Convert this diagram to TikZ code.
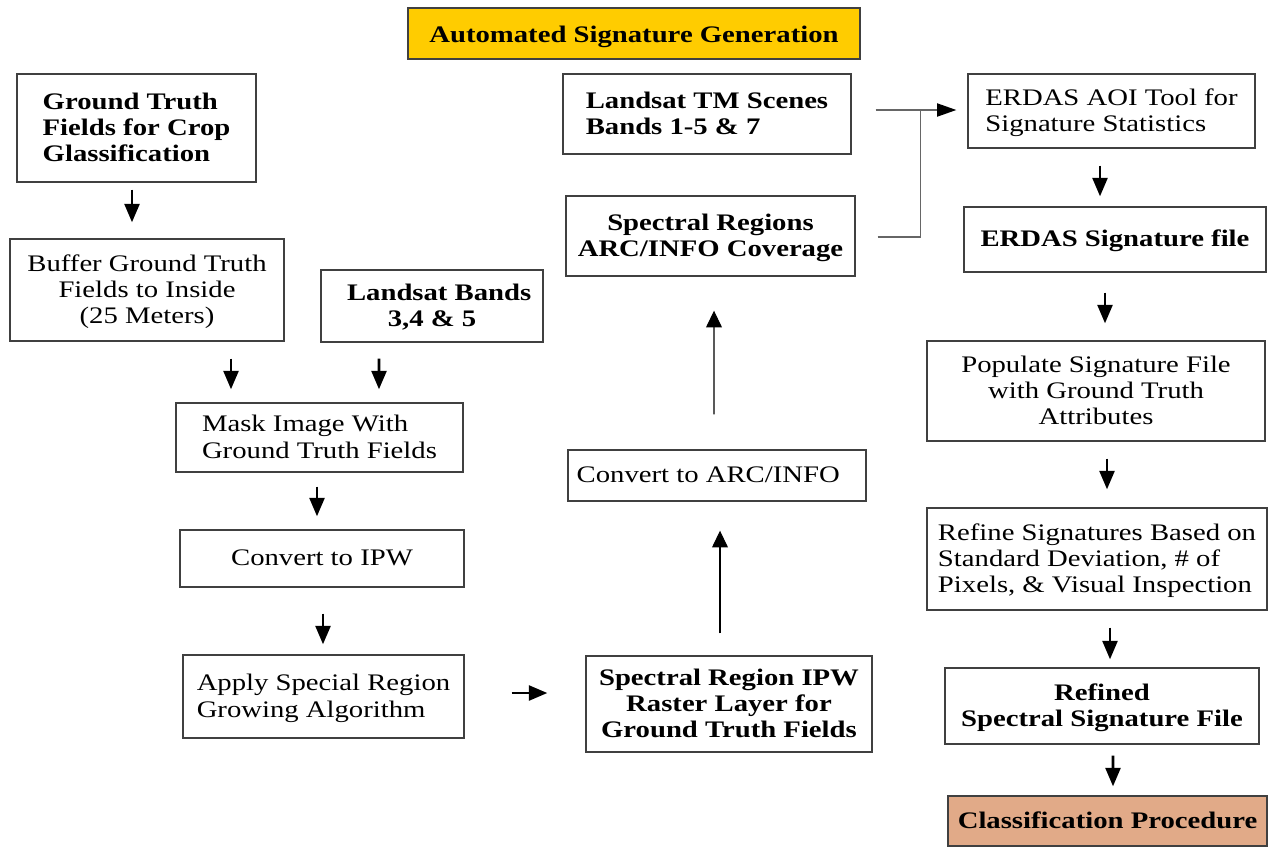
\documentclass[tikz,border=0pt]{standalone}
\usepackage{fontspec}
\setmainfont{Liberation Serif}[FakeStretch=1.21]
\usetikzlibrary{arrows.meta,calc}
\definecolor{giallo}{RGB}{255,204,0}
\definecolor{salmone}{RGB}{225,170,136}

\begin{document}
\begin{tikzpicture}[x=0.02cm,y=-0.02cm,
    font=\fontsize{13.5}{15}\selectfont,
    box/.style={rectangle,draw=black!75,line width=0.8pt,inner sep=0pt,align=center,
                text depth=1pt},
    boxl/.style={box,align=left},
    arr/.style={line width=1.5pt,-{Triangle[length=10.5pt,width=8.5pt]}},
    arrthin/.style={line width=0.6pt,-{Triangle[length=9.5pt,width=9pt]}},
    arrgrigia/.style={line width=0.9pt,black!60,-{Triangle[length=11pt,width=7.5pt,color=black]}},
    link/.style={line width=0.9pt,black!60}]

  \useasboundingbox (0,0) rectangle (1268,849);

  % ---- titolo ----------------------------------------------------------------
  \node[box,fill=giallo,minimum width=9.04cm,minimum height=1.02cm] (title) at (634,33.5)
       {\raisebox{-2pt}{\bfseries Automated Signature Generation}};

  % ---- colonna sinistra ------------------------------------------------------
  \node[boxl,minimum width=4.78cm,minimum height=2.16cm] (gt) at (136.5,128)
       {\bfseries Ground Truth\\\bfseries Fields for Crop\\\bfseries Glassification};
  \node[box,minimum width=5.48cm,minimum height=2.04cm] (buf) at (147,290)
       {Buffer Ground Truth\\Fields to Inside\\(25 Meters)};
  \node[box,minimum width=4.44cm,minimum height=1.44cm] (lb) at (432,306)
       {\bfseries\ \ Landsat Bands\\\bfseries 3,4 \& 5};
  \node[boxl,minimum width=5.74cm,minimum height=1.38cm] (mask) at (319.5,437.5)
       {Mask Image With\\Ground Truth Fields};
  \node[box,minimum width=5.68cm,minimum height=1.14cm] (ipw) at (322,558.5)
       {Convert to IPW};
  \node[boxl,minimum width=5.62cm,minimum height=1.66cm] (apply) at (323.5,696.5)
       {Apply Special Region\\Growing Algorithm};

  % ---- colonna centrale ------------------------------------------------------
  \node[box,minimum width=5.72cm,minimum height=1.92cm] (sripw) at (729,704)
       {\bfseries Spectral Region IPW\\\bfseries Raster Layer for\\\bfseries Ground Truth Fields};
  \node[boxl,minimum width=5.96cm,minimum height=1.02cm] (arc) at (717,475.5)
       {Convert to ARC/INFO\hspace{0.35cm}};
  \node[box,minimum width=5.78cm,minimum height=1.60cm] (srcov) at (710.5,236)
       {\bfseries Spectral Regions\\\bfseries ARC/INFO Coverage};
  \node[boxl,minimum width=5.76cm,minimum height=1.60cm] (tm) at (707,114)
       {\bfseries Landsat TM Scenes\\\bfseries Bands 1-5 \& 7};

  % ---- colonna destra --------------------------------------------------------
  \node[boxl,minimum width=5.74cm,minimum height=1.48cm] (aoi) at (1111.5,111)
       {ERDAS AOI Tool for\\Signature Statistics};
  \node[box,minimum width=6.04cm,minimum height=1.30cm] (sigf) at (1115,239.5)
       {\bfseries ERDAS Signature file};
  \node[box,minimum width=6.76cm,minimum height=2.00cm] (pop) at (1096,391)
       {Populate Signature File\\with Ground Truth\\Attributes};
  \node[boxl,minimum width=6.80cm,minimum height=2.04cm] (refine) at (1097,559)
       {Refine Signatures Based on\\Standard Deviation, \# of\\Pixels, \& Visual Inspection};
  \node[box,minimum width=6.28cm,minimum height=1.52cm] (refined) at (1102,706)
       {\bfseries Refined\\\bfseries Spectral Signature File};
  \node[box,fill=salmone,minimum width=6.38cm,minimum height=1.00cm] (cls) at (1107.5,821)
       {\bfseries Classification Procedure};

  % ---- frecce ----------------------------------------------------------------
  \draw[arr] ($(gt.south)+(-4.5,7)$)      -- ($(buf.north)+(-15,-16)$);
  \draw[arr] ($(buf.south)+(84,17)$)      -- ($(mask.north)+(-88.5,-13)$);
  \draw[arr] ($(lb.south)+(-53,16)$)      -- ($(mask.north)+(59.5,-13)$);
  \draw[arr] ($(mask.south)+(-2.5,14)$)   -- ($(ipw.north)+(-5,-13)$);
  \draw[arr] ($(ipw.south)+(1,26)$)       -- ($(apply.north)+(-0.5,-10)$);
  \draw[arr] ($(apply.east)+(47,-3.5)$)   -- ($(sripw.west)+(-38,-11)$);
  \draw[arrthin] ($(sripw.north)+(-9,-22)$) -- ($(arc.south)+(3,29)$);
  \draw[arrthin] ($(arc.north)+(-3,-35)$)   -- ($(srcov.south)+(3.5,34)$);

  \draw[arrgrigia] ($(tm.east)+(24,-4)$) -- ($(aoi.west)+(-11,-1)$);
  \draw[link] ($(srcov.east)+(22,1)$) -| ($(tm.east)+(69,-4)$);

  \draw[arr] ($(aoi.south)+(-11.5,17)$)    -- ($(sigf.north)+(-15,-10)$);
  \draw[arr] ($(sigf.south)+(-10,20)$)     -- ($(pop.north)+(9,-17)$);
  \draw[arr] ($(pop.south)+(11,17)$)       -- ($(refine.north)+(10,-18)$);
  \draw[arr] ($(refine.south)+(13,17)$)    -- ($(refined.north)+(8,-8)$);
  \draw[arr] ($(refined.south)+(11,11)$)   -- ($(cls.north)+(5.5,-9)$);

\end{tikzpicture}
\end{document}
